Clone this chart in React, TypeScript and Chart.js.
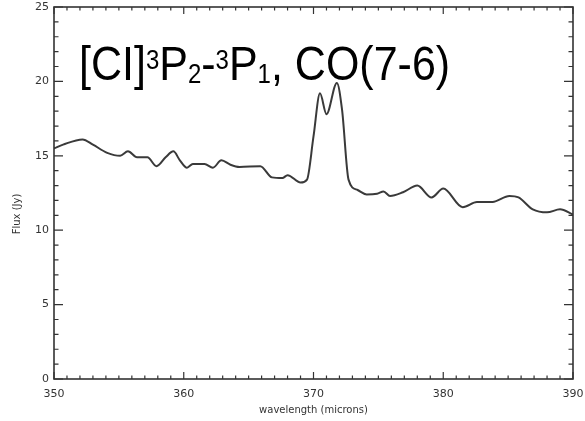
import React, { useEffect, useRef } from "react";
import { Chart, registerables } from "chart.js";

Chart.register(...registerables);

const wavelength = [
  350.0, 350.7, 352.2, 353.0, 354.1, 355.1, 355.7, 356.4, 357.2, 357.9,
  358.6, 359.2, 359.7, 360.25, 360.7, 361.6, 362.25, 362.9, 363.6, 364.3,
  365.9, 366.8, 367.6, 368.0, 369.0, 369.5, 370.0, 370.5, 371.0, 371.8,
  372.2, 372.7, 373.4, 374.1, 374.9, 375.4, 375.9, 376.9, 378.0, 379.1,
  380.0, 381.5, 382.6, 383.8, 385.1, 385.8, 386.9, 388.0, 389.0, 390.0,
];
const flux = [
  15.5, 15.75, 16.1, 15.75, 15.2, 15.0, 15.3, 14.9, 14.9, 14.3,
  14.9, 15.3, 14.7, 14.2, 14.45, 14.45, 14.2, 14.7, 14.4, 14.25,
  14.3, 13.55, 13.5, 13.7, 13.2, 13.4, 16.3, 19.2, 17.8, 19.9,
  18.1, 13.4, 12.7, 12.4, 12.45, 12.6, 12.3, 12.55, 13.0, 12.2,
  12.8, 11.55, 11.9, 11.9, 12.3, 12.2, 11.4, 11.2, 11.4, 11.05,
];

const xMin = 350, xMax = 390, xStep = 10, xMinor = 1;
const yMin = 0, yMax = 25, yStep = 5, yMinor = 1;
const xTitle = "wavelength (microns)";
const yTitle = "Flux (Jy)";

const AXIS = "#333";

const framePlugin = {
  id: "idlFrame",
  afterDraw(chart: any) {
    const { ctx, chartArea: a, scales } = chart;
    const xs = scales.x, ys = scales.y;
    ctx.save();
    ctx.strokeStyle = AXIS;
    ctx.lineWidth = 1.6;
    ctx.strokeRect(a.left, a.top, a.right - a.left, a.bottom - a.top);
    ctx.lineWidth = 1.2;
    ctx.beginPath();
    for (let v = xMin; v <= xMax + 1e-9; v += xMinor) {
      const px = xs.getPixelForValue(v);
      const major = Math.abs((v - xMin) % xStep) < 1e-6;
      const len = major ? 7 : 3.5;
      ctx.moveTo(px, a.bottom); ctx.lineTo(px, a.bottom - len);
      ctx.moveTo(px, a.top); ctx.lineTo(px, a.top + len);
    }
    for (let v = yMin; v <= yMax + 1e-9; v += yMinor) {
      const py = ys.getPixelForValue(v);
      const major = Math.abs((v - yMin) % yStep) < 1e-6;
      const len = major ? 9 : 4.5;
      ctx.moveTo(a.left, py); ctx.lineTo(a.left + len, py);
      ctx.moveTo(a.right, py); ctx.lineTo(a.right - len, py);
    }
    ctx.stroke();

    // y axis title
    ctx.fillStyle = AXIS;
    ctx.font = "10px 'DejaVu Sans'";
    ctx.textAlign = "center";
    ctx.textBaseline = "middle";
    ctx.translate(17, 214);
    ctx.rotate(-Math.PI / 2);
    ctx.fillText(yTitle, 0, 0);
    ctx.restore();

    // annotation
    ctx.save();
    ctx.fillStyle = "#000";
    ctx.textBaseline = "alphabetic";
    ctx.textAlign = "left";
    const base = 80;
    ctx.translate(0, base);
    ctx.scale(1, 1.12);
    const big = "43px 'Liberation Sans', Arial, sans-serif";
    const small = "24px 'Liberation Sans', Arial, sans-serif";
    const parts: [string, string, number][] = [
      ["[CI]", big, 0],
      ["3", small, -10],
      ["P", big, 0],
      ["2", small, 3],
      ["-", big, 0],
      ["3", small, -10],
      ["P", big, 0],
      ["1", small, 3],
      [", CO(7-6)", big, 0],
    ];
    let x = 79;
    for (const [t, f, dy] of parts) {
      ctx.font = f;
      ctx.fillText(t, x, dy);
      x += ctx.measureText(t).width;
    }
    ctx.restore();
  },
};

export default function App() {
  const ref = useRef<HTMLCanvasElement | null>(null);
  useEffect(() => {
    const points = wavelength.map((w, i) => ({ x: w, y: flux[i] }));
    const chart = new Chart(ref.current as HTMLCanvasElement, {
      type: "line",
      data: {
        datasets: [
          {
            data: points,
            borderColor: "#3a3a3a",
            borderWidth: 2,
            pointRadius: 0,
            fill: false,
            cubicInterpolationMode: "monotone",
          },
        ],
      },
      options: {
        animation: false,
        responsive: false,
        maintainAspectRatio: false,
        layout: { padding: { left: 0, right: 12, top: 7, bottom: 0 } },
        plugins: { legend: { display: false }, tooltip: { enabled: false } },
        scales: {
          x: {
            type: "linear",
            min: xMin,
            max: xMax,
            grid: { display: false, drawTicks: false },
            border: { display: false },
            ticks: {
              stepSize: xStep,
              color: AXIS,
              padding: 9,
              maxRotation: 0,
              font: { family: "'DejaVu Sans'", size: 11 },
            },
            title: {
              display: true,
              text: xTitle,
              color: AXIS,
              font: { family: "'DejaVu Sans'", size: 10 },
              padding: { top: 0, bottom: 5 },
            },
            afterFit: (s: any) => { s.height = 42; s.paddingLeft = 0; s.paddingRight = 0; },
          },
          y: {
            type: "linear",
            min: yMin,
            max: yMax,
            grid: { display: false, drawTicks: false },
            border: { display: false },
            ticks: {
              stepSize: yStep,
              color: AXIS,
              padding: 5,
              font: { family: "'DejaVu Sans'", size: 11 },
            },
            afterFit: (s: any) => { s.width = 54; s.paddingTop = 0; s.paddingBottom = 0; },
          },
        },
      },
      plugins: [framePlugin],
    });
    return () => chart.destroy();
  }, []);
  return (
    <div style={{ position: "fixed", left: 0, top: 0, width: 585, height: 421, background: "#fff" }}>
      <canvas ref={ref} width={585} height={421} style={{ display: "block" }} />
    </div>
  );
}
